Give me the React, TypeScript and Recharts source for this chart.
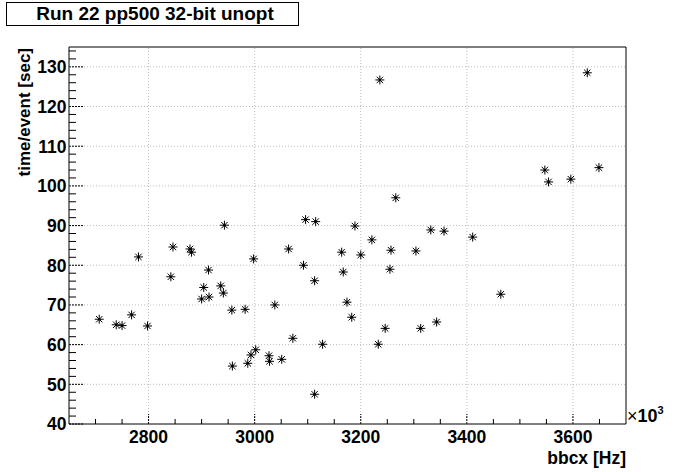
import React from 'react';
import { ScatterChart, Scatter, XAxis, YAxis, ReferenceLine, ReferenceArea } from 'recharts';

// bbcx rate [Hz] (axis shown in units of 10^3) and time per event [sec]
const bbcx = [
  2707, 2739, 2750, 2768, 2781, 2798, 2842, 2846, 2878, 2881,
  2913, 2904, 2900, 2914, 2936, 2941, 2943, 2957, 2982, 2998,
  2958, 2987, 2993, 3002, 3027, 3028, 3051, 3038, 3064, 3072,
  3092, 3096, 3115, 3113, 3128, 3113, 3164, 3167, 3174, 3183,
  3189, 3200, 3236, 3266, 3221, 3332, 3357, 3411, 3257, 3304,
  3255, 3627, 3547, 3554, 3596, 3649, 3464, 3313, 3343, 3246,
  3233,
];
const timePerEvent = [
  66.4, 65.0, 64.8, 67.5, 82.1, 64.7, 77.1, 84.6, 84.1, 83.3,
  78.8, 74.4, 71.5, 72.0, 74.8, 73.0, 90.1, 68.7, 68.9, 81.6,
  54.6, 55.3, 57.4, 58.7, 57.2, 55.8, 56.3, 70.0, 84.1, 61.6,
  80.0, 91.5, 91.0, 76.1, 60.1, 47.5, 83.3, 78.3, 70.7, 66.9,
  89.9, 82.6, 126.7, 97.0, 86.4, 88.9, 88.6, 87.1, 83.8, 83.6,
  79.0, 128.5, 104.0, 101.0, 101.7, 104.6, 72.7, 64.1, 65.7, 64.1,
  60.1,
];

const xMajorTicks = [2800, 3000, 3200, 3400, 3600];
const yMajorTicks = [40, 50, 60, 70, 80, 90, 100, 110, 120, 130];
const xDomain: [number, number] = [2650, 3700];
const yDomain: [number, number] = [40, 135];

const xTicks: number[] = [];
for (let v = 2700; v < xDomain[1]; v += 50) xTicks.push(v);
const yTicks: number[] = [];
for (let v = 40; v < yDomain[1]; v += 2) yTicks.push(v);

const data = bbcx.map((x, i) => ({ x, y: timePerEvent[i] }));

const FONT = '"Liberation Sans", Arial, Helvetica, sans-serif';
const GRID = '#bdbdbd';

const XTick = (props: any) => {
  const { x, y, payload } = props;
  const major = xMajorTicks.includes(payload.value);
  return (
    <g>
      <line x1={x} x2={x} y1={y} y2={y - (major ? 10 : 5)} stroke="#000" strokeDasharray={major ? '2 1' : undefined} />
      {major && (
        <text x={x} y={y + 19} textAnchor="middle" fontFamily={FONT} fontWeight="bold" fontSize={17.5} fill="#000">
          {payload.value}
        </text>
      )}
    </g>
  );
};

const YTick = (props: any) => {
  const { x, y, payload } = props;
  const major = yMajorTicks.includes(payload.value);
  return (
    <g>
      <line x1={x} x2={x + (major ? 14 : 7)} y1={y} y2={y} stroke="#000" strokeDasharray={major ? '2 1' : undefined} />
      {major && (
        <text x={x - 2.5} y={y} dy="0.36em" textAnchor="end" fontFamily={FONT} fontWeight="bold" fontSize={17.5} fill="#000">
          {payload.value}
        </text>
      )}
    </g>
  );
};

const Asterisk = (props: any) => {
  const { cx, cy } = props;
  if (cx == null || cy == null) return null;
  const d = `M${cx - 4.5},${cy}H${cx + 4.5}M${cx},${cy - 4.5}V${cy + 4.5}M${cx - 3.2},${cy - 3.2}L${cx + 3.2},${cy + 3.2}M${cx - 3.2},${cy + 3.2}L${cx + 3.2},${cy - 3.2}`;
  return (
    <g>
      <path d={d} stroke="#000" strokeWidth={1} fill="none" />
      <circle cx={cx} cy={cy} r={1.3} fill="#000" />
    </g>
  );
};

const XLabel = (props: any) => {
  const { x, y, width } = props.viewBox;
  const right = x + width;
  return (
    <g fontFamily={FONT} fill="#000">
      <text x={right + 1} y={y - 2} fontSize={18}>
        <tspan fontWeight="normal">×</tspan>
        <tspan fontWeight="bold">10</tspan>
        <tspan fontWeight="bold" fontSize={11} dy={-8}>3</tspan>
      </text>
      <text x={right} y={y + 40} textAnchor="end" fontWeight="bold" fontSize={17.5}>
        bbcx [Hz]
      </text>
    </g>
  );
};

const YLabel = (props: any) => {
  const { y } = props.viewBox;
  const tx = 30;
  const ty = y + 1;
  return (
    <text x={tx} y={ty} transform={`rotate(-90, ${tx}, ${ty})`} textAnchor="end" fontFamily={FONT} fontWeight="bold" fontSize={17} fill="#000">
      time/event [sec]
    </text>
  );
};

export default function App() {
  return (
    <div style={{ position: 'relative', width: 696, height: 472, background: '#fff' }}>
      <style>{'body{margin:0;}'}</style>
      <ScatterChart width={696} height={472} margin={{ top: 47, right: 70, bottom: 0, left: 0 }}>
        <XAxis
          type="number"
          dataKey="x"
          domain={xDomain}
          allowDataOverflow
          ticks={xTicks}
          interval={0}
          tickSize={0}
          tickMargin={0}
          axisLine={false}
          tickLine={false}
          tick={<XTick />}
          height={48}
          label={<XLabel />}
        />
        <YAxis
          type="number"
          dataKey="y"
          domain={yDomain}
          allowDataOverflow
          ticks={yTicks}
          interval={0}
          tickSize={0}
          tickMargin={0}
          axisLine={false}
          tickLine={false}
          tick={<YTick />}
          width={69}
          label={<YLabel />}
        />
        {xMajorTicks.map((v) => (
          <ReferenceLine key={`gx${v}`} x={v} stroke={GRID} strokeDasharray="1 2" />
        ))}
        {yMajorTicks.slice(1).map((v) => (
          <ReferenceLine key={`gy${v}`} y={v} stroke={GRID} strokeDasharray="1 2" />
        ))}
        <ReferenceArea x1={xDomain[0]} x2={xDomain[1]} y1={yDomain[0]} y2={yDomain[1]} fill="none" stroke="#000" strokeWidth={1} fillOpacity={0} />
        <Scatter data={data} shape={<Asterisk />} isAnimationActive={false} />
      </ScatterChart>
      <svg width={300} height={28} style={{ position: 'absolute', left: 0, top: 0 }}>
        <rect x={6.5} y={2.5} width={292} height={23} fill="#fff" stroke="#000" strokeWidth={1} />
        <text x={155} y={19.5} textAnchor="middle" fontFamily={FONT} fontWeight="bold" fontSize={19} fill="#000">
          Run 22 pp500 32-bit unopt
        </text>
      </svg>
    </div>
  );
}
